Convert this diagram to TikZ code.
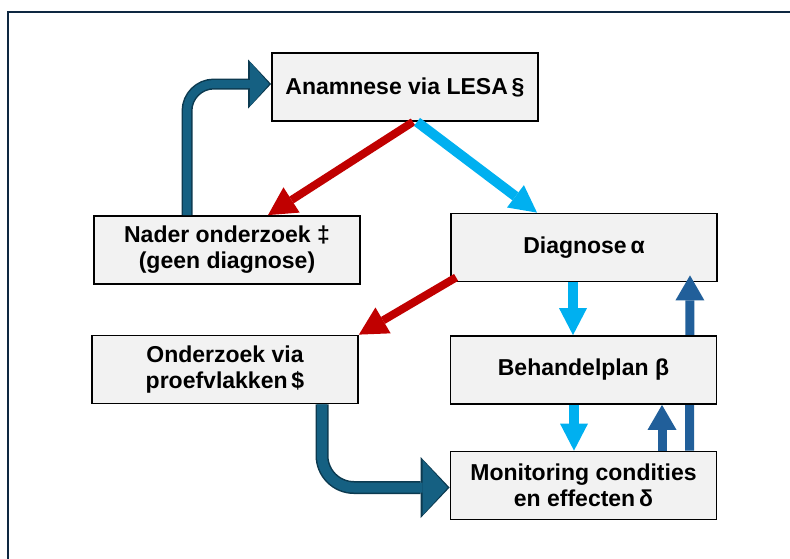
\documentclass[tikz,border=0pt]{standalone}
\usepackage{fontspec}
\setmainfont{Liberation Sans}
\usetikzlibrary{arrows.meta}
\definecolor{boxgray}{HTML}{F2F2F2}
\definecolor{framenavy}{HTML}{0E2841}
\definecolor{nogo}{HTML}{C00000}
\definecolor{go}{HTML}{00B0F0}
\definecolor{feedback}{HTML}{215F9A}
\definecolor{bentfill}{HTML}{156082}
\definecolor{bentline}{HTML}{0C3A50}

\begin{document}
\begin{tikzpicture}[x=1pt, y=-1pt,
		box/.style={draw=black, line width=1.8pt, fill=boxgray, minimum width=266pt, minimum height=68pt, inner sep=0pt, align=center, font=\fontsize{23}{26}\selectfont\bfseries},
		redarrow/.style={line width=8pt, nogo, -{Triangle[width=30pt,length=28pt,line width=0pt]}},
		bluearrow/.style={line width=10pt, go, -{Triangle[width=28pt,length=27pt,line width=0pt]}},
		backarrow/.style={line width=9pt, feedback, -{Triangle[width=29pt,length=25pt,line width=0pt]}}]
		\useasboundingbox (0,0) rectangle (790,558);
		\clip (0,0) rectangle (790,558);
		\draw[framenavy, line width=2.6pt] (8,12) rectangle (820,590);
		\node[box] (anamnese) at (405,87) {Anamnese via LESA\,§};
		\node[box] (nader) at (227,250) {Nader onderzoek ‡\\(geen diagnose)};
		\node[box] (diagnose) at (584,247.5) {Diagnose\,α};
		\node[box] (onderzoek) at (225,369.5) {Onderzoek via\\proefvlakken\,\$};
		\node[box] (monitoring) at (583.5,485.5) {Monitoring condities\\en effecten\,δ};
		\draw[backarrow] ([xshift=106pt]monitoring.north) -- ([xshift=106pt,yshift=7pt]diagnose.south);
		\node[box] (behandel) at (583.5,370) {Behandelplan β};
		\draw[redarrow] ([xshift=8pt]anamnese.south) -- ([xshift=41pt]nader.north);
		\draw[bluearrow] ([xshift=12pt]anamnese.south) -- ([xshift=-47pt]diagnose.north);
		\draw[redarrow] ([xshift=6pt,yshift=5pt]diagnose.south west) -- (onderzoek.north east);
		\draw[bluearrow] ([xshift=-11pt]diagnose.south) -- ([xshift=-10.5pt]behandel.north);
		\draw[bluearrow] ([xshift=-9.5pt]behandel.south) -- ([xshift=-9.5pt]monitoring.north);
		\draw[backarrow] ([xshift=78.5pt]monitoring.north) -- ([xshift=78.5pt]behandel.south);
		\draw[bentline, line width=11pt, rounded corners=27pt, -{Triangle[width=49pt,length=23pt,line width=0pt]}] ([xshift=-40pt]nader.north) |- ([yshift=3pt]anamnese.west);
		\draw[bentfill, line width=8pt, rounded corners=27pt, shorten >=2pt, -{Triangle[width=44pt,length=19pt,line width=0pt]}] ([xshift=-40pt]nader.north) |- ([yshift=3pt]anamnese.west);
		\draw[bentline, line width=13pt, rounded corners=32pt, -{Triangle[width=61pt,length=29pt,line width=0pt]}] ([xshift=97pt]onderzoek.south) |- ([yshift=-2pt]monitoring.west);
		\draw[bentfill, line width=10pt, rounded corners=32pt, shorten >=2pt, -{Triangle[width=55pt,length=25pt,line width=0pt]}] ([xshift=97pt]onderzoek.south) |- ([yshift=-2pt]monitoring.west);
	\end{tikzpicture}
\end{document}
